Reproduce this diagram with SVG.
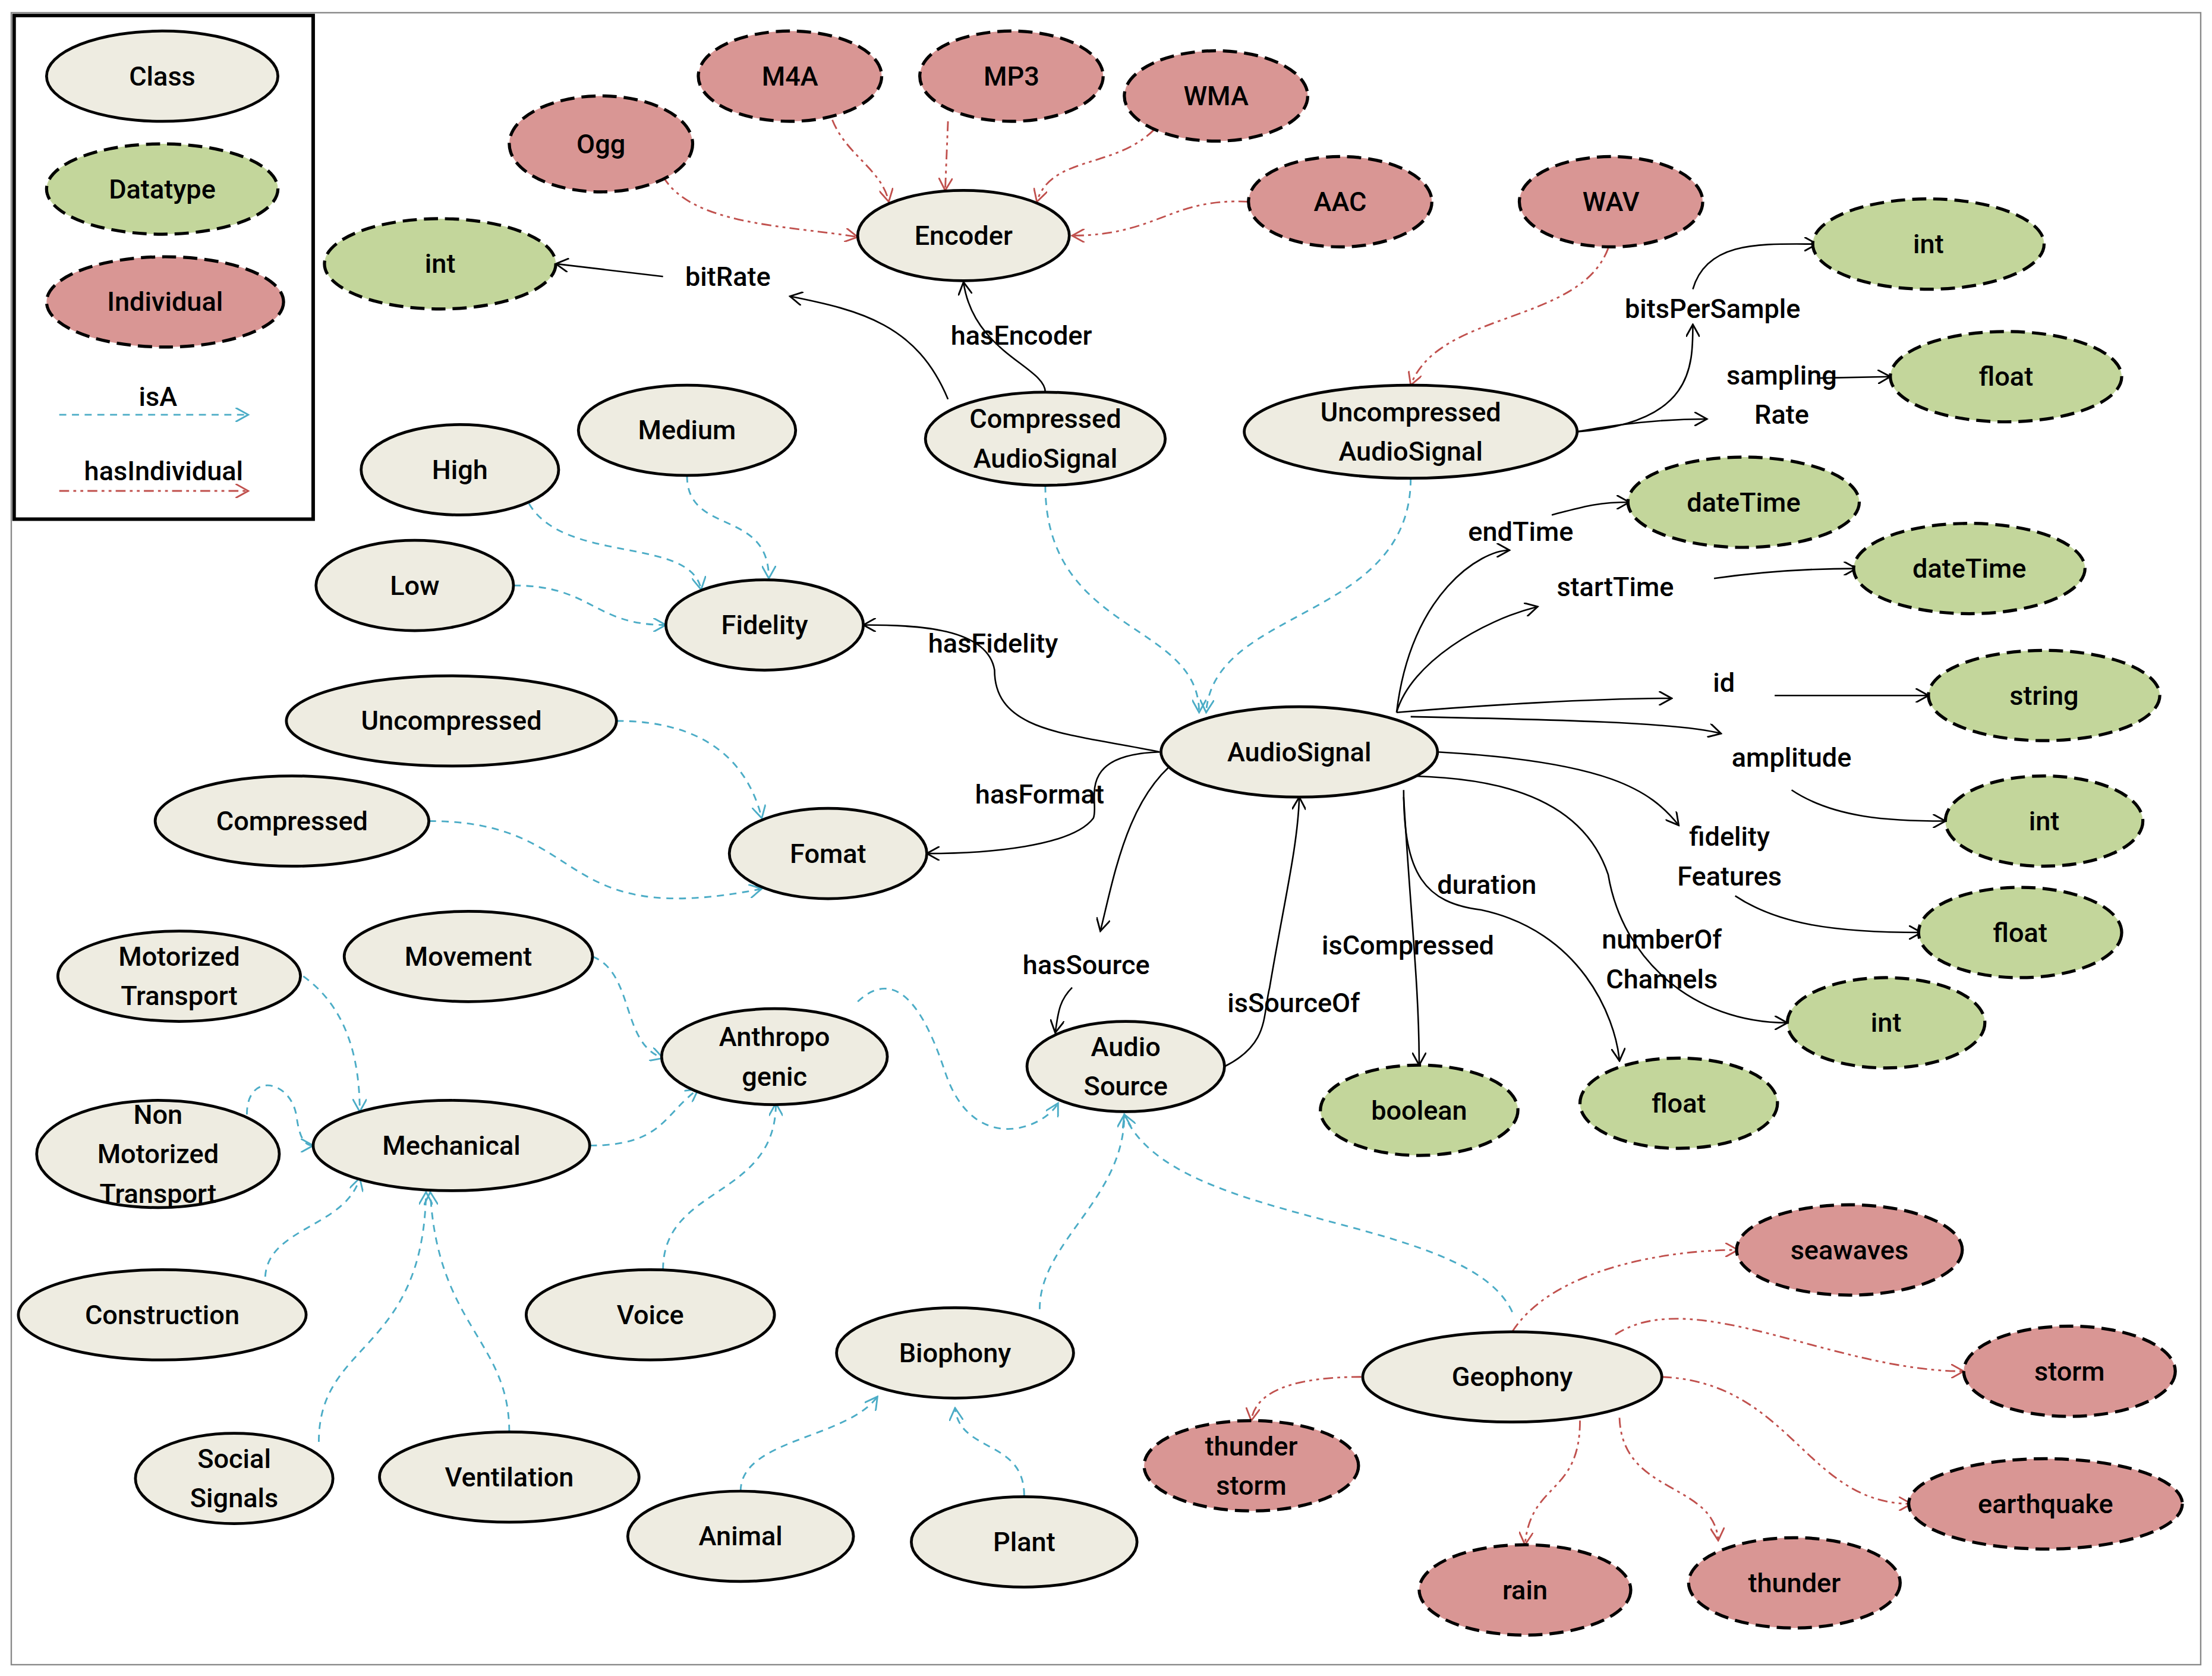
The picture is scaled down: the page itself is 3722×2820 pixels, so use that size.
<svg xmlns="http://www.w3.org/2000/svg" width="3722" height="2820" viewBox="0 0 3722 2820">
<style>
.c{fill:#eeece1;stroke:#000;stroke-width:2}
.d{fill:#c3d69b;stroke:#000;stroke-width:2.2;stroke-dasharray:10 5}
.i{fill:#d99694;stroke:#000;stroke-width:2.2;stroke-dasharray:10 5}
text{font-family:Roboto,"Liberation Sans",sans-serif;font-weight:500;font-size:19px;text-anchor:middle;dominant-baseline:central;fill:#000}
.e{fill:none;stroke:#000;stroke-width:1.1;marker-end:url(#mk)}
.a{fill:none;stroke:#4bacc6;stroke-width:1.2;stroke-dasharray:5 4;marker-end:url(#mb)}
.h{fill:none;stroke:#c0504d;stroke-width:1.2;stroke-dasharray:7 3 2 3 2 3;marker-end:url(#mr)}
</style>
<defs>
<marker id="mk" viewBox="0 0 10 10" refX="9" refY="5" markerWidth="10" markerHeight="10" markerUnits="userSpaceOnUse" orient="auto"><path d="M0,0L9,5L0,10" fill="none" stroke="#000" stroke-width="1.2"/></marker>
<marker id="mb" viewBox="0 0 10 10" refX="9" refY="5" markerWidth="10" markerHeight="10" markerUnits="userSpaceOnUse" orient="auto"><path d="M0,0L9,5L0,10" fill="none" stroke="#4bacc6" stroke-width="1.2"/></marker>
<marker id="mr" viewBox="0 0 10 10" refX="9" refY="5" markerWidth="10" markerHeight="10" markerUnits="userSpaceOnUse" orient="auto"><path d="M0,0L9,5L0,10" fill="none" stroke="#c0504d" stroke-width="1.2"/></marker>
</defs>
<rect width="3722" height="2820" fill="#fff"/>
<g transform="scale(2.3737)">
<rect x="8" y="9" width="1552" height="1171" fill="none" stroke="#888" stroke-width="1"/>
<g id="legend">
<rect x="10" y="11" width="212" height="357" fill="#fff" stroke="#000" stroke-width="2.5"/>
<ellipse class="c" cx="115" cy="54" rx="82" ry="32"/><text x="115" y="54">Class</text>
<ellipse class="d" cx="115" cy="134" rx="82" ry="32"/><text x="115" y="134">Datatype</text>
<ellipse class="i" cx="117" cy="214" rx="84" ry="32"/><text x="117" y="214">Individual</text>
<text x="112" y="281">isA</text>
<path class="a" d="M42,294H176"/>
<text x="116" y="334">hasIndividual</text>
<path class="h" d="M42,348H176"/>
</g>
<g id="connectors">
<path class="h" d="M470,125C490,160 560,160 608,168"/>
<path class="h" d="M590,85C600,110 625,120 630,143"/>
<path class="h" d="M672,86L670,135"/>
<path class="h" d="M818,92C790,120 745,110 735,143"/>
<path class="h" d="M885,143C830,140 820,167 760,167"/>
<path class="h" d="M1140,176C1120,230 1020,220 1000,273"/>
<path class="h" d="M1072,944C1100,900 1180,886 1232,886"/>
<path class="h" d="M1145,946C1200,910 1300,972 1392,972"/>
<path class="h" d="M965,976C920,976 890,985 887,1007"/>
<path class="h" d="M1178,976C1270,980 1280,1066 1355,1066"/>
<path class="h" d="M1120,1007C1120,1060 1085,1050 1081,1095"/>
<path class="h" d="M1148,1005C1150,1060 1215,1050 1218,1092"/>
<path class="a" d="M741,344C741,450 850,440 850,505"/>
<path class="a" d="M1000,339C1000,440 860,430 855,505"/>
<path class="a" d="M487,337C487,380 545,360 545,410"/>
<path class="a" d="M375,357C400,400 490,380 497,418"/>
<path class="a" d="M364,415C420,415 420,443 472,443"/>
<path class="a" d="M437,511C500,511 530,540 540,580"/>
<path class="a" d="M304,582C420,582 390,660 540,630"/>
<path class="a" d="M215,692C240,710 255,740 255,788"/>
<path class="a" d="M175,790C175,760 205,765 210,790C212,805 215,812 222,812"/>
<path class="a" d="M188,905C190,870 245,870 255,835"/>
<path class="a" d="M226,1022C226,950 300,960 302,845"/>
<path class="a" d="M361,1015C361,950 310,940 305,845"/>
<path class="a" d="M418,812C470,812 470,790 495,772"/>
<path class="a" d="M420,678C450,690 440,740 470,750"/>
<path class="a" d="M470,900C470,840 550,850 550,782"/>
<path class="a" d="M608,710C640,680 660,730 670,760C690,820 740,800 750,782"/>
<path class="a" d="M737,928C737,880 797,850 797,790"/>
<path class="a" d="M1072,930C1040,860 830,870 797,790"/>
<path class="a" d="M525,1057C525,1020 600,1020 622,990"/>
<path class="a" d="M726,1060C726,1020 680,1030 677,998"/>
<path class="e" d="M672,283C650,230 610,220 560,210"/>
<path class="e" d="M470,196L394,187"/>
<path class="e" d="M741,278C741,260 690,250 683,200"/>
<path class="e" d="M1118,306C1200,300 1200,260 1200,230"/>
<path class="e" d="M1200,205C1210,170 1250,173 1288,173"/>
<path class="e" d="M1118,306C1150,300 1180,297 1210,297"/>
<path class="e" d="M1290,268L1340,267"/>
<path class="e" d="M822,533C760,520 705,520 705,475C700,445 650,443 612,443"/>
<path class="e" d="M822,533C760,535 780,570 775,580C760,600 700,605 657,605"/>
<path class="e" d="M840,535C800,560 790,620 780,660"/>
<path class="e" d="M760,700C750,710 750,720 748,732"/>
<path class="e" d="M868,756C900,740 895,720 900,700C910,640 920,600 921,565"/>
<path class="e" d="M990,505C1000,420 1050,390 1070,390"/>
<path class="e" d="M1100,365C1120,360 1130,356 1155,356"/>
<path class="e" d="M990,505C1000,470 1050,440 1090,430"/>
<path class="e" d="M1215,410C1250,405 1280,403 1316,403"/>
<path class="e" d="M990,505C1050,500 1130,495 1185,495"/>
<path class="e" d="M1258,493L1367,493"/>
<path class="e" d="M1000,508C1100,510 1190,512 1220,520"/>
<path class="e" d="M1270,560C1300,580 1340,582 1379,582"/>
<path class="e" d="M1019,533C1140,540 1170,560 1190,585"/>
<path class="e" d="M1230,635C1260,655 1300,661 1362,661"/>
<path class="e" d="M990,550C1050,550 1120,560 1140,620C1150,680 1200,725 1267,725"/>
<path class="e" d="M995,560C995,620 1010,640 1050,645C1120,660 1145,720 1148,752"/>
<path class="e" d="M995,565C1000,650 1006,700 1006,755"/>
</g>
<g id="individuals">
<ellipse class="i" cx="560" cy="54" rx="65" ry="32"/><text x="560" y="54">M4A</text>
<ellipse class="i" cx="717" cy="54" rx="65" ry="32"/><text x="717" y="54">MP3</text>
<ellipse class="i" cx="862" cy="68" rx="65" ry="32"/><text x="862" y="68">WMA</text>
<ellipse class="i" cx="426" cy="102" rx="65" ry="34"/><text x="426" y="102">Ogg</text>
<ellipse class="i" cx="950" cy="143" rx="65" ry="32"/><text x="950" y="143">AAC</text>
<ellipse class="i" cx="1142" cy="143" rx="65" ry="32"/><text x="1142" y="143">WAV</text>
<ellipse class="i" cx="1311" cy="886" rx="80" ry="32"/><text x="1311" y="886">seawaves</text>
<ellipse class="i" cx="1467" cy="972" rx="75" ry="32"/><text x="1467" y="972">storm</text>
<ellipse class="i" cx="887" cy="1039" rx="76" ry="32"/><text x="887" y="1025">thunder</text><text x="887" y="1053">storm</text>
<ellipse class="i" cx="1450" cy="1066" rx="97" ry="32"/><text x="1450" y="1066">earthquake</text>
<ellipse class="i" cx="1081" cy="1127" rx="75" ry="32"/><text x="1081" y="1127">rain</text>
<ellipse class="i" cx="1272" cy="1122" rx="75" ry="32"/><text x="1272" y="1122">thunder</text>
</g>
<g id="datatypes">
<ellipse class="d" cx="312" cy="187" rx="82" ry="32"/><text x="312" y="187">int</text>
<ellipse class="d" cx="1367" cy="173" rx="82" ry="32"/><text x="1367" y="173">int</text>
<ellipse class="d" cx="1422" cy="267" rx="82" ry="32"/><text x="1422" y="267">float</text>
<ellipse class="d" cx="1236" cy="356" rx="82" ry="32"/><text x="1236" y="356">dateTime</text>
<ellipse class="d" cx="1396" cy="403" rx="82" ry="32"/><text x="1396" y="403">dateTime</text>
<ellipse class="d" cx="1449" cy="493" rx="82" ry="32"/><text x="1449" y="493">string</text>
<ellipse class="d" cx="1449" cy="582" rx="70" ry="32"/><text x="1449" y="582">int</text>
<ellipse class="d" cx="1432" cy="661" rx="72" ry="32"/><text x="1432" y="661">float</text>
<ellipse class="d" cx="1337" cy="725" rx="70" ry="32"/><text x="1337" y="725">int</text>
<ellipse class="d" cx="1006" cy="787" rx="70" ry="32"/><text x="1006" y="787">boolean</text>
<ellipse class="d" cx="1190" cy="782" rx="70" ry="32"/><text x="1190" y="782">float</text>
</g>
<g id="classes">
<ellipse class="c" cx="683" cy="167" rx="75" ry="32"/><text x="683" y="167">Encoder</text>
<ellipse class="c" cx="741" cy="311" rx="85" ry="33"/><text x="741" y="297">Compressed</text><text x="741" y="325">AudioSignal</text>
<ellipse class="c" cx="1000" cy="306" rx="118" ry="33"/><text x="1000" y="292">Uncompressed</text><text x="1000" y="320">AudioSignal</text>
<ellipse class="c" cx="487" cy="305" rx="77" ry="32"/><text x="487" y="305">Medium</text>
<ellipse class="c" cx="326" cy="333" rx="70" ry="32"/><text x="326" y="333">High</text>
<ellipse class="c" cx="294" cy="415" rx="70" ry="32"/><text x="294" y="415">Low</text>
<ellipse class="c" cx="542" cy="443" rx="70" ry="32"/><text x="542" y="443">Fidelity</text>
<ellipse class="c" cx="320" cy="511" rx="117" ry="32"/><text x="320" y="511">Uncompressed</text>
<ellipse class="c" cx="207" cy="582" rx="97" ry="32"/><text x="207" y="582">Compressed</text>
<ellipse class="c" cx="587" cy="605" rx="70" ry="32"/><text x="587" y="605">Fomat</text>
<ellipse class="c" cx="921" cy="533" rx="98" ry="32"/><text x="921" y="533">AudioSignal</text>
<ellipse class="c" cx="127" cy="692" rx="86" ry="32"/><text x="127" y="678">Motorized</text><text x="127" y="706">Transport</text>
<ellipse class="c" cx="332" cy="678" rx="88" ry="32"/><text x="332" y="678">Movement</text>
<ellipse class="c" cx="549" cy="749" rx="80" ry="34"/><text x="549" y="735">Anthropo</text><text x="549" y="763">genic</text>
<ellipse class="c" cx="798" cy="756" rx="70" ry="32"/><text x="798" y="742">Audio</text><text x="798" y="770">Source</text>
<ellipse class="c" cx="112" cy="818" rx="86" ry="38"/><text x="112" y="790">Non</text><text x="112" y="818">Motorized</text><text x="112" y="846">Transport</text>
<ellipse class="c" cx="320" cy="812" rx="98" ry="32"/><text x="320" y="812">Mechanical</text>
<ellipse class="c" cx="115" cy="932" rx="102" ry="32"/><text x="115" y="932">Construction</text>
<ellipse class="c" cx="461" cy="932" rx="88" ry="32"/><text x="461" y="932">Voice</text>
<ellipse class="c" cx="677" cy="959" rx="84" ry="32"/><text x="677" y="959">Biophony</text>
<ellipse class="c" cx="1072" cy="976" rx="106" ry="32"/><text x="1072" y="976">Geophony</text>
<ellipse class="c" cx="166" cy="1048" rx="70" ry="32"/><text x="166" y="1034">Social</text><text x="166" y="1062">Signals</text>
<ellipse class="c" cx="361" cy="1047" rx="92" ry="32"/><text x="361" y="1047">Ventilation</text>
<ellipse class="c" cx="525" cy="1089" rx="80" ry="32"/><text x="525" y="1089">Animal</text>
<ellipse class="c" cx="726" cy="1093" rx="80" ry="32"/><text x="726" y="1093">Plant</text>
</g>
<g id="labels">
<text x="516" y="196">bitRate</text>
<text x="724" y="238">hasEncoder</text>
<text x="1214" y="219">bitsPerSample</text>
<text x="1263" y="266">sampling</text><text x="1263" y="294">Rate</text>
<text x="704" y="456">hasFidelity</text>
<text x="737" y="563">hasFormat</text>
<text x="770" y="684">hasSource</text>
<text x="917" y="711">isSourceOf</text>
<text x="1078" y="377">endTime</text>
<text x="1145" y="416">startTime</text>
<text x="1222" y="484">id</text>
<text x="1270" y="537">amplitude</text>
<text x="1226" y="593">fidelity</text><text x="1226" y="621">Features</text>
<text x="1178" y="666">numberOf</text><text x="1178" y="694">Channels</text>
<text x="1054" y="627">duration</text>
<text x="998" y="670">isCompressed</text>
</g>
</g>
</svg>
